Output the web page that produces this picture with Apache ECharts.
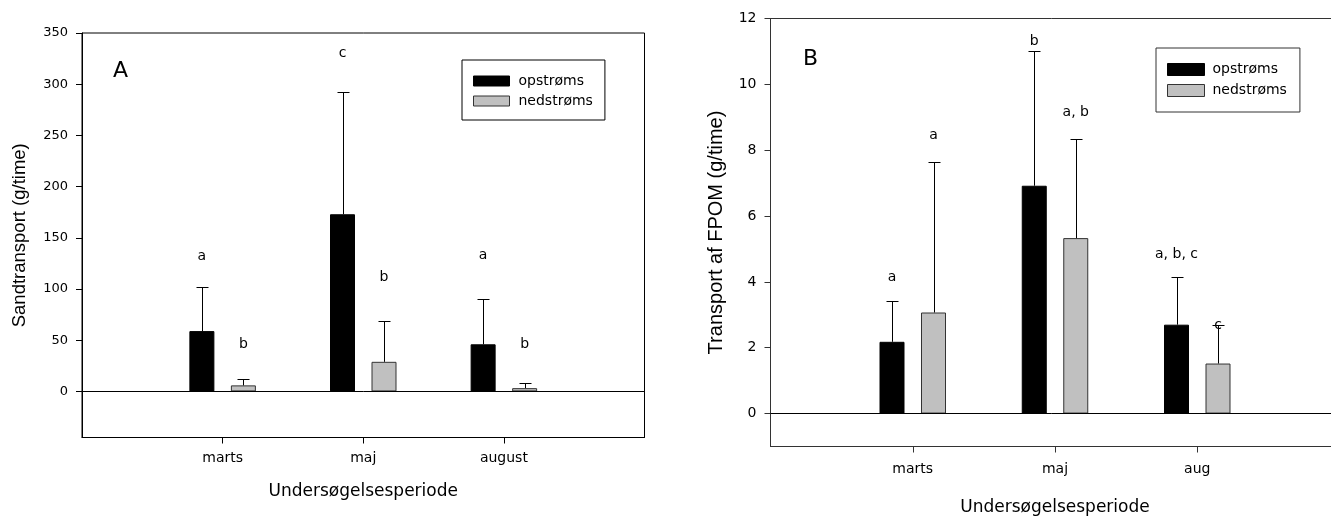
<!DOCTYPE html>
<html>
<head>
<meta charset="utf-8">
<script src="https://cdn.jsdelivr.net/npm/echarts@6/dist/echarts.min.js"></script>
<style>
html,body{margin:0;padding:0;background:#fff;}
#chart{width:1331px;height:519px;}
</style>
</head>
<body>
<div id="chart"></div>
<script>
// ---- data ----
const seriesNames = ['opstrøms', 'nedstrøms'];
const categoriesA = ['marts', 'maj', 'august'];
const categoriesB = ['marts', 'maj', 'aug'];

// Panel A: Sandtransport (g/time)
const sandOp = [58.9, 173, 46];
const sandNed = [5.9, 28.9, 3.2];
const sandOpErr = [43.4, 119.6, 44.2];
const sandNedErr = [5.8, 39.8, 4.6];
const sandOpLetters = ['a', 'c', 'a'];
const sandOpLetterY = [132, 330, 133];
const sandNedLetters = ['b', 'b', 'b'];
const sandNedLetterY = [46, 111, 46];
const yTicksA = [0, 50, 100, 150, 200, 250, 300, 350];
const yRangeA = [-45, 350];

// Panel B: Transport af FPOM (g/time)
const fpomOp = [2.18, 6.92, 2.70];
const fpomNed = [3.07, 5.33, 1.52];
const fpomOpErr = [1.23, 4.10, 1.45];
const fpomNedErr = [4.56, 3.01, 1.18];
const fpomOpLetters = ['a', 'b', 'a, b, c'];
const fpomOpLetterY = [4.13, 11.31, 4.84];
const fpomNedLetters = ['a', 'a, b', 'c'];
const fpomNedLetterY = [8.46, 9.15, 2.68];
const yTicksB = [0, 2, 4, 6, 8, 10, 12];
const yRangeB = [-1, 12];

// ---- styling ----
const FONT = 'DejaVu Sans';
const BAR_W = 25;
const BAR_GAP = 0.66;
const OFFSET = (BAR_W + BAR_W * BAR_GAP) / 2;
const COLORS = ['#000000', '#c0c0c0'];
const BORDERS = ['#000000', '#333333'];

function pad(arr) { return [null].concat(arr, [null]); }
function padCat(arr) { return [''].concat(arr, ['']); }

function barSeries(idx, gi, values, withZero) {
  const s = {
    type: 'bar', name: seriesNames[idx], xAxisIndex: gi, yAxisIndex: gi,
    data: pad(values), barWidth: BAR_W, barGap: (BAR_GAP * 100) + '%',
    itemStyle: { color: COLORS[idx], borderColor: BORDERS[idx], borderWidth: 1 }
  };
  if (withZero) {
    s.markLine = {
      silent: true, symbol: ['none', 'none'], label: { show: false },
      lineStyle: { color: '#000', width: 1, type: 'solid' },
      data: [{ yAxis: 0 }]
    };
  }
  return s;
}

function errSeries(gi, values, errs, dx) {
  return {
    type: 'custom', xAxisIndex: gi, yAxisIndex: gi, silent: true, z: 3,
    data: values.map((v, i) => [i + 1, v, v + errs[i]]),
    renderItem: (params, api) => {
      const b = api.coord([api.value(0), api.value(1)]);
      const t = api.coord([api.value(0), api.value(2)]);
      const x = Math.round(b[0] + dx) + 0.5;
      const ty = Math.round(t[1]) + 0.5;
      return {
        type: 'group', children: [
          { type: 'line', shape: { x1: x, y1: b[1], x2: x, y2: ty }, style: { stroke: '#000', lineWidth: 1 } },
          { type: 'line', shape: { x1: x - 6, y1: ty, x2: x + 6, y2: ty }, style: { stroke: '#000', lineWidth: 1 } }
        ]
      };
    }
  };
}

function letterSeries(gi, letters, ys, dx, size) {
  return {
    type: 'custom', xAxisIndex: gi, yAxisIndex: gi, silent: true, z: 4,
    data: ys.map((y, i) => [i + 1, y]),
    renderItem: (params, api) => {
      const p = api.coord([api.value(0), api.value(1)]);
      return {
        type: 'text', x: p[0] + dx, y: p[1],
        style: { text: letters[params.dataIndex], fill: '#000', font: size + 'px "' + FONT + '"', align: 'center', verticalAlign: 'middle' }
      };
    }
  };
}

function xAxisCfg(gi, cats, labelMargin, nameGap, color) {
  return {
    gridIndex: gi, type: 'category', data: padCat(cats), boundaryGap: false,
    axisLine: { onZero: false, lineStyle: { color: color, width: 1 } },
    axisTick: { show: true, length: 6, interval: (i, v) => v !== '', lineStyle: { color: color } },
    axisLabel: { interval: 0, margin: labelMargin, fontFamily: FONT, fontSize: 14, color: '#000' },
    splitLine: { show: false },
    name: 'Undersøgelsesperiode', nameLocation: 'middle', nameGap: nameGap,
    nameTextStyle: { fontFamily: FONT, fontSize: 17, color: '#000' }
  };
}

function yAxisCfg(gi, range, ticks, name, nameGap, nameSize, labelSize, color) {
  return {
    gridIndex: gi, type: 'value', min: range[0], max: range[1],
    axisLine: { show: true, lineStyle: { color: color, width: 1 } },
    axisTick: { show: true, length: 6, customValues: ticks, lineStyle: { color: color } },
    axisLabel: { customValues: ticks, margin: 14, fontFamily: FONT, fontSize: labelSize, color: '#000' },
    splitLine: { show: false },
    name: name, nameLocation: 'middle', nameGap: nameGap,
    nameTextStyle: { fontFamily: 'Liberation Sans', fontSize: nameSize, color: '#000' }
  };
}

function legendCfg(left, top, w, h, pad, lineH, size, border, textPad) {
  return {
    left: left, top: top, orient: 'vertical', icon: 'rect',
    itemWidth: w, itemHeight: h, itemGap: 0, padding: pad,
    borderColor: border, borderWidth: 1, backgroundColor: '#fff',
    selectedMode: false,
    textStyle: { fontFamily: FONT, fontSize: size, color: '#000', lineHeight: lineH, padding: [0, 0, 0, textPad] },
    data: seriesNames.map((n, i) => ({ name: n, itemStyle: { color: COLORS[i], borderColor: BORDERS[i], borderWidth: 1 } }))
  };
}

const option = {
  animation: false,
  backgroundColor: '#fff',
  title: [
    { text: 'A', left: 113, top: 60, padding: 0, textStyle: { fontFamily: FONT, fontSize: 22, fontWeight: 'normal', color: '#000' } },
    { text: 'B', left: 803, top: 48, padding: 0, textStyle: { fontFamily: FONT, fontSize: 22, fontWeight: 'normal', color: '#000' } }
  ],
  legend: [
    legendCfg(462, 60, 36, 10, [11, 12, 9, 11], 20, 14, '#000', 4),
    legendCfg(1156, 48, 37, 12, [11, 13, 11, 11], 21, 14, '#333', 3)
  ],
  grid: [
    { left: 82, top: 33, width: 562.5, height: 404.5, outerBoundsMode: 'none', containLabel: false, show: true, borderColor: '#000', borderWidth: 1, backgroundColor: 'transparent' },
    { left: 770.5, top: 18.5, width: 569, height: 428, outerBoundsMode: 'none', containLabel: false, show: true, borderColor: '#333', borderWidth: 1, backgroundColor: 'transparent' }
  ],
  xAxis: [
    xAxisCfg(0, categoriesA, 14, 46, '#000'),
    xAxisCfg(1, categoriesB, 16, 53, '#333')
  ],
  yAxis: [
    yAxisCfg(0, yRangeA, yTicksA, 'Sandtransport (g/time)', 53, 18.5, 13, '#000'),
    yAxisCfg(1, yRangeB, yTicksB, 'Transport af FPOM (g/time)', 44, 20, 14, '#333')
  ],
  series: [
    barSeries(0, 0, sandOp, true),
    barSeries(1, 0, sandNed, false),
    errSeries(0, sandOp, sandOpErr, -OFFSET),
    errSeries(0, sandNed, sandNedErr, OFFSET),
    letterSeries(0, sandOpLetters, sandOpLetterY, -OFFSET, 14),
    letterSeries(0, sandNedLetters, sandNedLetterY, OFFSET, 14),
    barSeries(0, 1, fpomOp, true),
    barSeries(1, 1, fpomNed, false),
    errSeries(1, fpomOp, fpomOpErr, -OFFSET),
    errSeries(1, fpomNed, fpomNedErr, OFFSET),
    letterSeries(1, fpomOpLetters, fpomOpLetterY, -OFFSET, 14),
    letterSeries(1, fpomNedLetters, fpomNedLetterY, OFFSET, 14)
  ]
};

const chart = echarts.init(document.getElementById('chart'), null, { renderer: 'canvas' });
chart.setOption(option);
</script>
</body>
</html>
